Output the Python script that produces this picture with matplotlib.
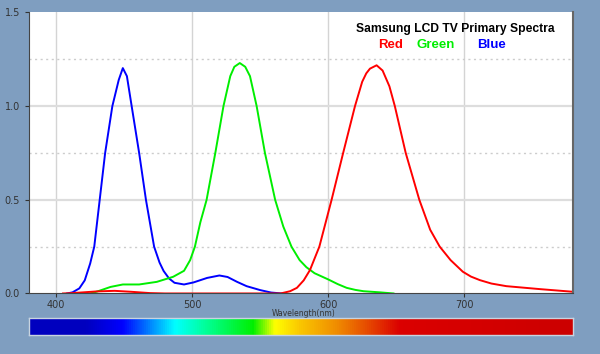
#!/usr/bin/env python3
"""
Samsung LCD TV primary spectra (R, G, B) with a visible spectrum strip
"""

import numpy as np
import matplotlib
matplotlib.use("Agg")
import matplotlib.pyplot as plt
from matplotlib.colors import LinearSegmentedColormap

# Blue primary (wavelength nm, relative power)
blue_wl = [408, 412, 417, 421, 425, 428, 432, 436, 441.3, 446, 449, 452, 455.5, 461, 466,
           469, 472, 476, 479, 483, 487, 494, 501, 511, 520, 526, 533, 540, 550, 558, 566]
blue_val = [0, 0.006, 0.027, 0.07, 0.16, 0.25, 0.5, 0.75, 1.0, 1.14, 1.203, 1.16, 1.0, 0.75, 0.5,
            0.375, 0.25, 0.165, 0.12, 0.08, 0.057, 0.048, 0.059, 0.083, 0.096, 0.088, 0.062,
            0.039, 0.018, 0.005, 0]

# Green primary
green_wl = [425, 430, 440, 449, 461, 474, 486, 494, 498.5, 502, 506, 510.6, 517, 523, 528,
            531, 535, 539, 542.5, 547.4, 553.5, 561, 567, 573, 579, 584, 590, 600, 607,
            613.6, 620, 626, 638, 648]
green_val = [0, 0.01, 0.035, 0.048, 0.048, 0.062, 0.089, 0.121, 0.178, 0.25, 0.38, 0.5, 0.75,
             1.0, 1.16, 1.21, 1.23, 1.21, 1.16, 1.0, 0.75, 0.5, 0.357, 0.25, 0.178, 0.14, 0.108,
             0.075, 0.05, 0.03, 0.019, 0.012, 0.006, 0]

# Red primary
red_wl = [405, 412, 420, 430, 443, 455, 469, 480, 565, 572, 577, 582, 586.6, 593.5, 602.5,
          611, 619.7, 625, 628, 630.7, 635.6, 640, 645, 649, 657, 667, 675, 682, 690, 699,
          705, 711.6, 720, 731, 756, 780]
red_val = [0, 0.002, 0.006, 0.011, 0.014, 0.009, 0.002, 0, 0, 0.012, 0.03, 0.07, 0.125, 0.25,
           0.5, 0.75, 1.0, 1.13, 1.175, 1.20, 1.218, 1.19, 1.106, 1.0, 0.75, 0.5, 0.34, 0.25,
           0.178, 0.116, 0.09, 0.071, 0.053, 0.039, 0.023, 0.009]

x_ticks = [400, 500, 600, 700]
y_ticks = [0.0, 0.5, 1.0, 1.5]

# colours of the spectrum strip (position along strip, rgb)
strip_pos = [0.0, 0.103, 0.171, 0.268, 0.324, 0.412, 0.452, 0.498, 0.566, 0.627, 0.682, 1.0]
strip_rgb = [(0, 0, 0.75), (0, 0, 0.75), (0, 0, 1), (0, 1, 1), (0, 1, 0.6), (0, 0.94, 0),
             (1, 1, 0), (0.98, 0.78, 0), (0.94, 0.55, 0), (0.9, 0.27, 0), (0.86, 0, 0),
             (0.8, 0, 0)]

bg = '#7f9ec0'

fig = plt.figure(figsize=(6.0, 3.54), dpi=100, facecolor=bg)
ax = fig.add_axes([0.0483, 0.171, 0.9067, 0.7938])

# grid
for x in x_ticks:
    ax.axvline(x, color='#d4d4d4', lw=1.0, zorder=0)
for y in [0.5, 1.0]:
    ax.axhline(y, color='#dddddd', lw=1.6, zorder=0)
for y in [0.25, 0.75, 1.25]:
    ax.axhline(y, color='#cccccc', lw=1.0, ls=(0, (1.5, 2.5)), zorder=0)

ax.plot(blue_wl, blue_val, color='#0000ff', lw=1.4)
ax.plot(green_wl, green_val, color='#00ee00', lw=1.4)
ax.plot(red_wl, red_val, color='#ff0000', lw=1.4)

ax.set_xlim(380, 780)
ax.set_ylim(0, 1.5)
ax.set_xticks(x_ticks)
ax.set_yticks(y_ticks)
ax.set_yticklabels([f"{v:.1f}" for v in y_ticks])
ax.tick_params(labelsize=7, colors='#333333', length=3, width=0.8)
ax.tick_params(axis='x', pad=2)
for side in ['left', 'bottom']:
    ax.spines[side].set_color('#444444')
ax.spines['right'].set_color('#666666')
ax.spines['right'].set_linewidth(1.5)
ax.spines['top'].set_visible(False)

ax.text(0.505, -0.07, 'Wavelength(nm)', transform=ax.transAxes, ha='center', va='center',
        fontsize=5.5, color='#333333')

# title block
fig.text(455 / 600, 1 - 29 / 354, 'Samsung LCD TV Primary Spectra', ha='center', va='center',
         fontsize=8.7, fontweight='bold', family='Liberation Sans')
for label, col, xc in [('Red', '#ff0000', 390.5), ('Green', '#00ee00', 435.5), ('Blue', '#0000ff', 492)]:
    fig.text(xc / 600, 1 - 45 / 354, label, ha='center', va='center', fontsize=9.5,
             fontweight='bold', color=col, family='Liberation Sans')

# spectrum strip
cax = fig.add_axes([29 / 600, 1 - 335 / 354, 544 / 600, 17 / 354])
cmap = LinearSegmentedColormap.from_list('spec', list(zip(strip_pos, strip_rgb)))
cax.imshow(np.linspace(0, 1, 512)[None, :], aspect='auto', cmap=cmap, extent=[0, 1, 0, 1])
cax.set_xticks([])
cax.set_yticks([])
for s in cax.spines.values():
    s.set_color('#c8d4e0')
    s.set_linewidth(1.0)

fig.savefig('out.png', dpi=100, facecolor=bg)
